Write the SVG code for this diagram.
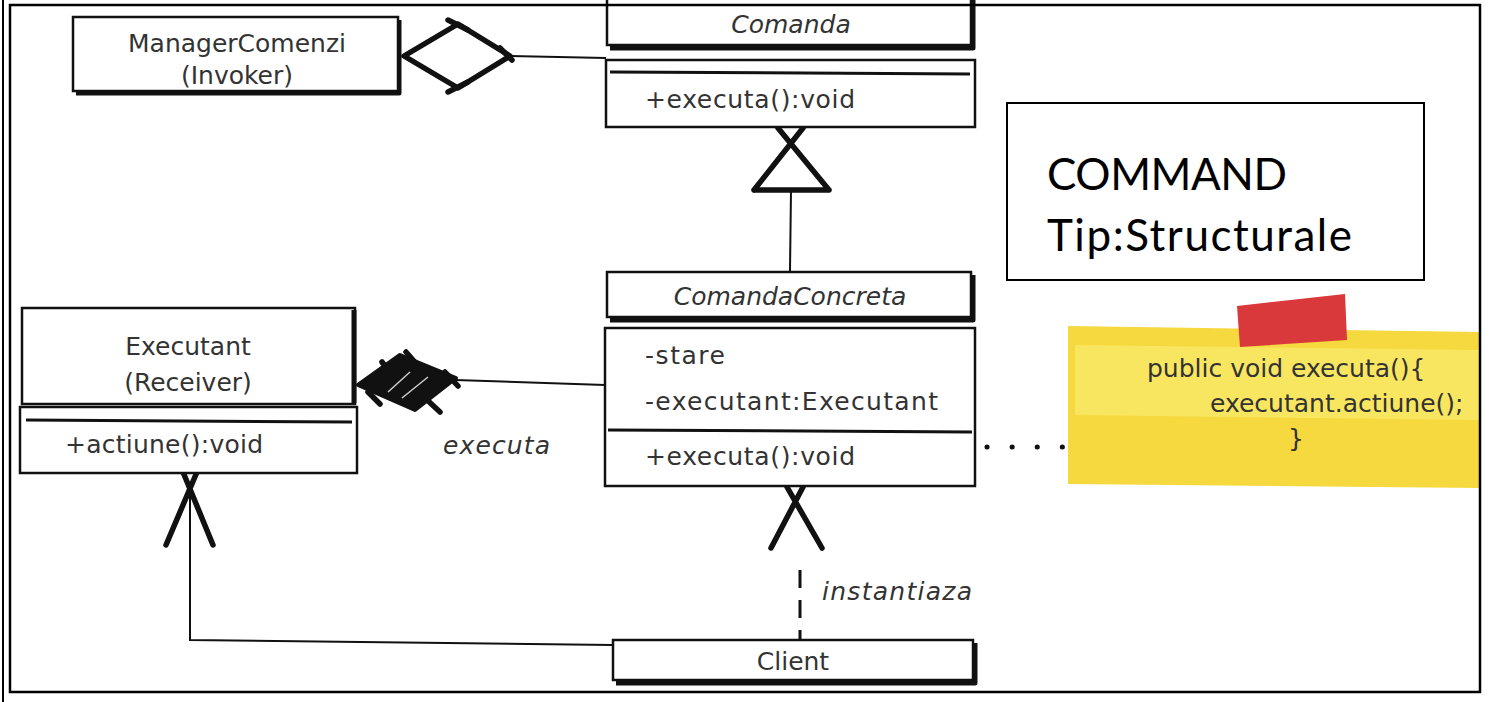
<svg xmlns="http://www.w3.org/2000/svg" width="1492" height="702" viewBox="0 0 1492 702">
<defs>
<style>
.box{fill:#fff;stroke:#111;stroke-width:2.5}
.shadow{fill:none;stroke:#111;stroke-width:5;stroke-linejoin:round}
.sep{stroke:#111;stroke-width:3;fill:none}
.t{font-family:"DejaVu Sans","Noto Sans",sans-serif;font-size:25px;fill:#333}
.ti{font-family:"DejaVu Sans","Noto Sans",sans-serif;font-size:25px;fill:#333;font-style:italic}
.nt{font-family:"DejaVu Sans","Noto Sans",sans-serif;font-size:25px;fill:#333}
.big{font-family:Lato,"Open Sans",sans-serif;font-size:44px;fill:#000}
.line{fill:none;stroke:#111;stroke-width:2}
.head{fill:none;stroke:#111;stroke-width:5.5;stroke-linecap:round;stroke-linejoin:round}
</style>
</defs>
<rect x="0" y="0" width="1492" height="702" fill="#fff"/>

<g id="connectors">
  <!-- aggregation Manager - Comanda -->
  <path class="line" d="M510,56 L606,58"/>
  <polygon points="404,56 458,24 510,56 458,88" fill="#fff" stroke="#111" stroke-width="5.5" stroke-linejoin="round"/>
  <path class="head" d="M448,20 L468,30 M448,92 L468,82 M500,48 L512,60"/>
  <!-- inheritance ComandaConcreta -> Comanda -->
  <path class="line" d="M791,190 L790,271"/>
  <path class="head" d="M754,190 L803,128 M829,190 L778,128 M754,190 L829,190"/>
  <!-- composition ComandaConcreta - Executant -->
  <path class="line" d="M455,380 L605,385"/>
  <polygon points="358,385 400,355 456,378 415,410" fill="#111" stroke="#111" stroke-width="4" stroke-linejoin="round"/>
  <path class="head" d="M382,362 L394,378 M406,352 L420,368 M425,398 L440,412 M445,372 L458,386 M368,392 L380,404"/>
  <path d="M388,392 L410,372 M402,398 L428,377" stroke="#ccc" stroke-width="1.5"/>
  <!-- note dotted -->
  <path d="M987,447 L1063,447" stroke="#111" stroke-width="5" stroke-linecap="round" stroke-dasharray="0.1 25"/>
  <!-- association Client -> Executant -->
  <path class="line" d="M613,645 L190,640 L190,482"/>
  <path class="head" d="M166,545 L197,472 M213,545 L183,472"/>
  <!-- dependency Client -> ComandaConcreta -->
  <path d="M800,570 L800,640" stroke="#111" stroke-width="3" stroke-dasharray="18 12"/>
  <path class="head" d="M771,548 L803,487 M822,548 L787,487"/>
  <text class="ti" x="443" y="454" textLength="107">executa</text>
  <text class="ti" x="822" y="600" textLength="150">instantiaza</text>
</g>

<g id="manager">
  <path class="shadow" d="M399,20 L399,93 L76,93"/>
  <rect class="box" x="73" y="17" width="325" height="74"/>
  <text class="t" x="237" y="52" text-anchor="middle">ManagerComenzi</text>
  <text class="t" x="237" y="84" text-anchor="middle">(Invoker)</text>
</g>

<g id="comanda">
  <path class="shadow" d="M973,0 L973,48 L610,48"/>
  <rect class="box" x="607" y="-10" width="364" height="55"/>
  <text class="ti" x="791" y="33" text-anchor="middle">Comanda</text>
  <rect class="box" x="606" y="60" width="369" height="67"/>
  <path class="sep" d="M610,72 L970,74"/>
  <text class="t" x="645" y="108" textLength="210">+executa():void</text>
</g>

<g id="comandaConcreta">
  <path class="shadow" d="M973,275 L973,320 L610,320"/>
  <rect class="box" x="607" y="272" width="364" height="45"/>
  <text class="ti" x="790" y="305" text-anchor="middle">ComandaConcreta</text>
  <rect class="box" x="605" y="328" width="370" height="158"/>
  <path class="sep" d="M608,430 L972,432"/>
  <text class="t" x="645" y="364" textLength="80">-stare</text>
  <text class="t" x="645" y="410" textLength="293">-executant:Executant</text>
  <text class="t" x="645" y="465" textLength="210">+executa():void</text>
</g>

<g id="executant">
  <rect class="box" x="22" y="308" width="333" height="96"/>
  <path class="shadow" d="M354,310 L354,403"/>
  <rect class="box" x="20" y="407" width="337" height="66"/>
  <path class="sep" d="M26,420 L352,422"/>
  <text class="t" x="188" y="355" text-anchor="middle">Executant</text>
  <text class="t" x="188" y="391" text-anchor="middle">(Receiver)</text>
  <text class="t" x="65" y="453" textLength="198">+actiune():void</text>
</g>

<g id="note">
  <polygon points="1068,326 1480,332 1480,488 1068,484" fill="#f6d93e"/>
  <polygon points="1075,345 1480,350 1480,420 1075,415" fill="#fae869" opacity="0.8"/>
  <polygon points="1237,306 1345,294 1347,340 1240,347" fill="#d9393a"/>
  <text class="nt" x="1147" y="377">public void executa(){</text>
  <text class="nt" x="1210" y="412">executant.actiune();</text>
  <text class="nt" x="1288" y="447">}</text>
</g>

<g id="client">
  <path class="shadow" d="M975,643 L975,683 L616,683"/>
  <rect class="box" x="613" y="640" width="360" height="40"/>
  <text class="t" x="793" y="670" text-anchor="middle">Client</text>
</g>

<g id="title">
  <rect x="1007" y="103" width="417" height="177" fill="#fff" stroke="#000" stroke-width="2"/>
  <text class="big" x="1047" y="190" textLength="240">COMMAND</text>
  <text class="big" x="1047" y="251" textLength="305">Tip:Structurale</text>
</g>

<g id="frame">
  <line x1="3" y1="0" x2="3" y2="702" stroke="#000" stroke-width="2"/>
  <rect x="10" y="5" width="1470" height="687" fill="none" stroke="#000" stroke-width="2.5"/>
</g>
</svg>
